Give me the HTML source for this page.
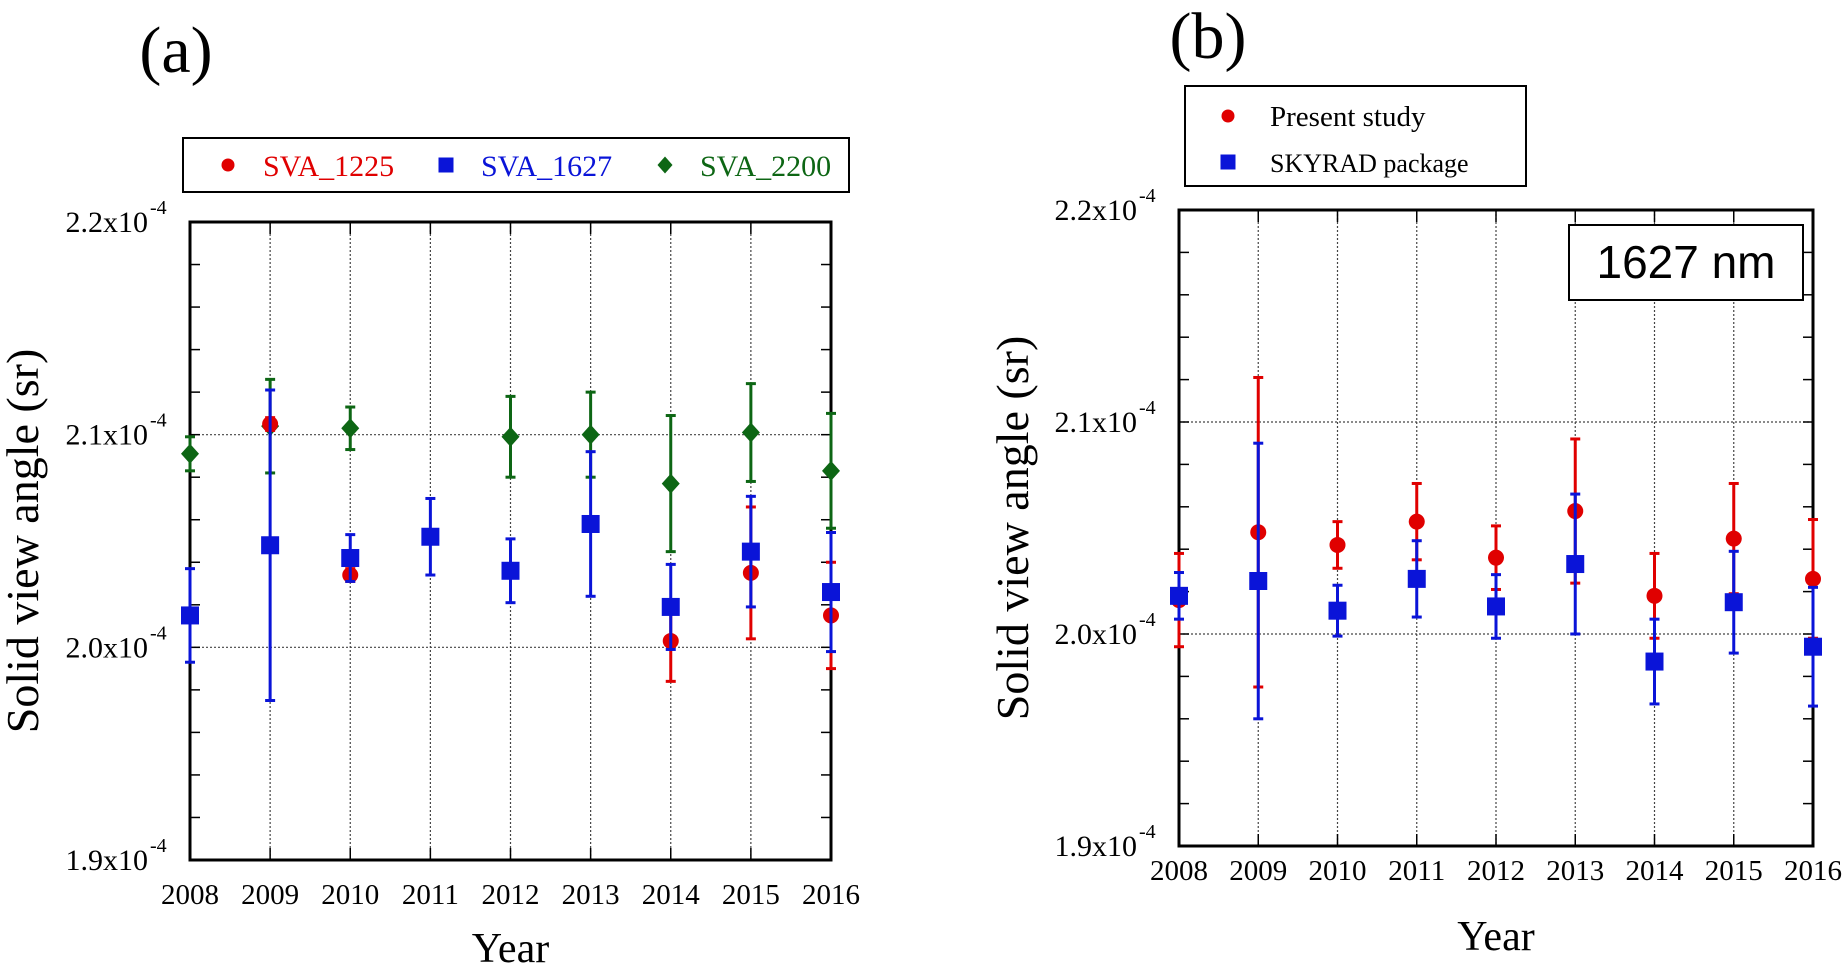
<!DOCTYPE html>
<html><head><meta charset="utf-8"><style>
body{margin:0;background:#fff}
svg text{font-family:"Liberation Serif",serif}
</style></head><body>
<svg id="fig" width="1848" height="968" viewBox="0 0 1848 968" xmlns="http://www.w3.org/2000/svg"></svg>
<script>
const years=[2008,2009,2010,2011,2012,2013,2014,2015,2016];
const yTicks=[1.9,2.0,2.1,2.2];
const yTickLabels=["1.9x10","2.0x10","2.1x10","2.2x10"];
// Panel (a) values (x1e-4 sr); null = not shown
const a1225=[null,2.105,2.034,null,null,null,2.003,2.035,2.015];
const a1225err=[0,0.003,0.003,0,0,0,0.019,0.031,0.025];
const a1627=[2.015,2.048,2.042,2.052,2.036,2.058,2.019,2.045,2.026];
const a1627err=[0.022,0.073,0.011,0.018,0.015,0.034,0.020,0.026,0.028];
const a2200=[2.091,2.104,2.103,null,2.099,2.100,2.077,2.101,2.083];
const a2200err=[0.008,0.022,0.010,0,0.019,0.020,0.032,0.023,0.027];
// Panel (b)
const bPresent=[2.016,2.048,2.042,2.053,2.036,2.058,2.018,2.045,2.026];
const bPresentErr=[0.022,0.073,0.011,0.018,0.015,0.034,0.020,0.026,0.028];
const bSkyrad=[2.018,2.025,2.011,2.026,2.013,2.033,1.987,2.015,1.994];
const bSkyradErr=[0.011,0.065,0.012,0.018,0.015,0.033,0.020,0.024,0.028];

const NS="http://www.w3.org/2000/svg";
const svg=document.getElementById('fig');
function el(tag,attrs,parent,text){const e=document.createElementNS(NS,tag);for(const k in attrs)e.setAttribute(k,attrs[k]);if(text!==undefined)e.textContent=text;(parent||svg).appendChild(e);return e;}

function panel(P){
  const g=el('g',{});
  
  
  const xs=v=>P.L+(v-2008)*(P.R-P.L)/8;
  const ys=v=>P.B-(v-1.9)*(P.B-P.T)/0.3;
  // grid
  years.forEach(y=>{const l=el('line',{x1:xs(y),x2:xs(y),y1:P.T,y2:P.B,stroke:'#444','stroke-width':1.2,'stroke-dasharray':'2,2'},g);
    });
  [2.0,2.1].forEach(v=>{const l=el('line',{x1:P.L,x2:P.R,y1:ys(v),y2:ys(v),stroke:'#444','stroke-width':1.2,'stroke-dasharray':'2,2'},g);
    });
  // minor ticks
  for(let v=1.92;v<2.2;v+=0.02){const yy=ys(v);
    el('line',{x1:P.L,x2:P.L+10,y1:yy,y2:yy,stroke:'#000','stroke-width':1.5},g);
    el('line',{x1:P.R-10,x2:P.R,y1:yy,y2:yy,stroke:'#000','stroke-width':1.5},g);}
  years.forEach(y=>{el('line',{x1:xs(y),x2:xs(y),y1:P.B,y2:P.B-12,stroke:'#000','stroke-width':1.5},g);el('line',{x1:xs(y),x2:xs(y),y1:P.T,y2:P.T+12,stroke:'#000','stroke-width':1.5},g);});
  const fr=el('rect',{x:P.L,y:P.T,width:P.R-P.L,height:P.B-P.T,fill:'none',stroke:'#000','stroke-width':3},g);
  
  // y tick labels
  yTicks.forEach((v,i)=>{const t=el('text',{x:P.L-42,y:ys(v)+10,'text-anchor':'end','font-size':30},g,yTickLabels[i]);
    
    el('text',{x:P.L-40,y:ys(v)-8,'font-size':20},g,'-4');});
  years.forEach(y=>{const t=el('text',{x:xs(y),y:P.xlabY,'text-anchor':'middle','font-size':29},g,String(y));
    });
  const xt=el('text',{x:(P.L+P.R)/2,y:P.yearY,'text-anchor':'middle','font-size':42},g,'Year');
  
  const yt=el('text',{x:0,y:0,'text-anchor':'middle','font-size':46,transform:`translate(${P.ylabX},${(P.T+P.B)/2}) rotate(-90)`},g,'Solid view angle (sr)');
  
  // series
  P.series.forEach(s=>{
    s.vals.forEach((v,i)=>{ if(v===null)return;
      const x=xs(years[i]),e=s.err[i];
      const sg=el('g',{},g);
      
      
      if(e>0){el('line',{x1:x,x2:x,y1:ys(v-e),y2:ys(v+e),stroke:s.color,'stroke-width':3},sg);
        el('line',{x1:x-5,x2:x+5,y1:ys(v-e),y2:ys(v-e),stroke:s.color,'stroke-width':3},sg);
        el('line',{x1:x-5,x2:x+5,y1:ys(v+e),y2:ys(v+e),stroke:s.color,'stroke-width':3},sg);}
      marker(sg,s.shape,x,ys(v),s.color,18);
    });
  });
}
function marker(p,shape,x,y,c,s){
  if(shape==='circle')el('circle',{cx:x,cy:y,r:s/2-1,fill:c},p);
  else if(shape==='square')el('rect',{x:x-s/2,y:y-s/2,width:s,height:s,fill:c},p);
  else el('polygon',{points:`${x},${y-s/2-1} ${x+s/2},${y} ${x},${y+s/2+1} ${x-s/2},${y}`,fill:c},p);
}
const RED='#e00000',BLUE='#0a14d8',GREEN='#0d6614';
panel({name:'panel-a',L:190,R:831,T:222,B:860,xlabY:904,yearY:962,ylabX:38,series:[
 {name:'sva-2200',vals:a2200,err:a2200err,color:GREEN,shape:'diamond'},
 {name:'sva-1225',vals:a1225,err:a1225err,color:RED,shape:'circle'},
 {name:'sva-1627',vals:a1627,err:a1627err,color:BLUE,shape:'square'}]});
panel({name:'panel-b',L:1179,R:1813,T:210,B:846,xlabY:880,yearY:950,ylabX:1028,series:[
 {name:'present-study',vals:bPresent,err:bPresentErr,color:RED,shape:'circle'},
 {name:'skyrad-package',vals:bSkyrad,err:bSkyradErr,color:BLUE,shape:'square'}]});

// titles
let t=el('text',{x:176,y:72,'text-anchor':'middle','font-size':66},svg,'(a)');

t=el('text',{x:1208,y:58,'text-anchor':'middle','font-size':66},svg,'(b)');

// legend a
let lg=el('g',{});

el('rect',{x:183,y:138,width:666,height:54,fill:'#fff',stroke:'#000','stroke-width':2},lg);
[['SVA_1225',RED,'circle',228],['SVA_1627',BLUE,'square',446],['SVA_2200',GREEN,'diamond',665]].forEach(d=>{
  const e=el('g',{},lg);
  
  marker(e,d[2],d[3],165,d[1],15);
  el('text',{x:d[3]+35,y:176,'font-size':30,fill:d[1]},e,d[0]);
});
// legend b
lg=el('g',{});

el('rect',{x:1185,y:86,width:341,height:100,fill:'#fff',stroke:'#000','stroke-width':2},lg);
[['Present  study',RED,'circle',116,29],['SKYRAD package',BLUE,'square',162,26]].forEach(d=>{
  const e=el('g',{},lg);
  
  marker(e,d[2],1228,d[3],d[1],15);
  el('text',{x:1270,y:d[3]+10,'font-size':d[4]},e,d[0]);
});
// 1627 nm box
lg=el('g',{});

el('rect',{x:1569,y:225,width:234,height:75,fill:'#fff',stroke:'#000','stroke-width':2},lg);
el('text',{x:1686,y:278,'text-anchor':'middle','font-size':46,style:'font-family:"Liberation Sans",sans-serif'},lg,'1627 nm');
</script>
</body></html>
